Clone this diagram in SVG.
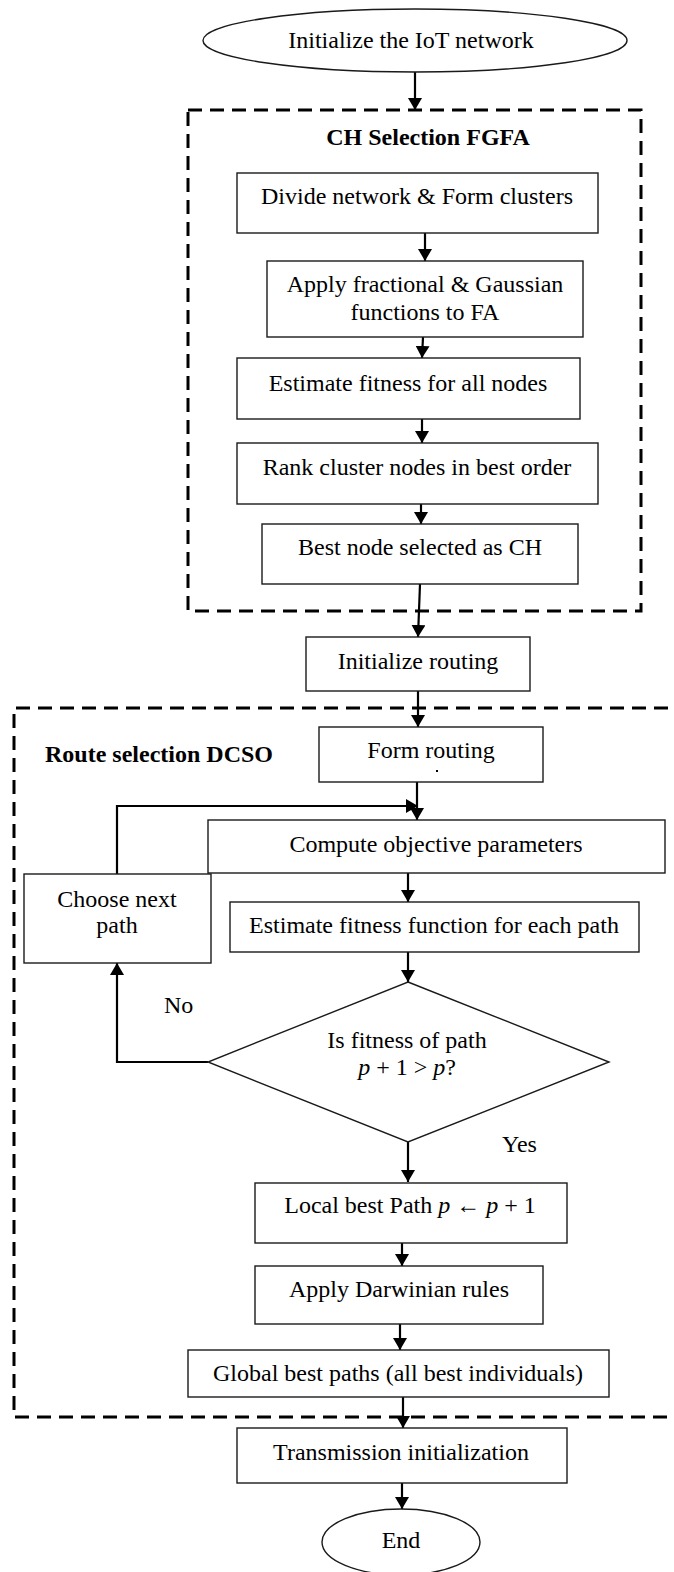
<svg xmlns="http://www.w3.org/2000/svg" width="674" height="1572" viewBox="0 0 674 1572">
  <style>
    .node { fill: #ffffff; stroke: #1a1a1a; stroke-width: 1.4; }
    .group { fill: none; stroke: #000000; stroke-width: 3; stroke-dasharray: 14 8; }
    .edge { fill: none; stroke: #000000; stroke-width: 2.2; }
    .t { font-family: "Liberation Serif", "Times New Roman", serif; font-size: 24px; fill: #000000; }
    .c { text-anchor: middle; }
    .b { font-weight: bold; }
    .m { font-style: italic; }
  </style>
  <defs>
    <marker id="arrow" viewBox="0 0 12 14" refX="12" refY="7" markerWidth="12" markerHeight="14" markerUnits="userSpaceOnUse" orient="auto">
      <path d="M0,0 L12,7 L0,14 Z" fill="#000000"/>
    </marker>
  </defs>
  <rect width="674" height="1572" fill="#ffffff"/>

  <!-- dashed group frames -->
  <g id="group-ch-selection">
    <rect class="group" x="188" y="110" width="453" height="501"/>
    <text class="t c b" x="428" y="145">CH Selection FGFA</text>
  </g>
  <g id="group-route-selection">
    <path class="group" d="M690,708 H14 V1417 H690"/>
    <text class="t b" x="45" y="762">Route selection DCSO</text>
  </g>

  <!-- connectors -->
  <g id="connectors">
    <path class="edge" d="M415,72 V110" marker-end="url(#arrow)"/>
    <path class="edge" d="M425,233 V261" marker-end="url(#arrow)"/>
    <path class="edge" d="M423,337 L422,358" marker-end="url(#arrow)"/>
    <path class="edge" d="M422,419 V443" marker-end="url(#arrow)"/>
    <path class="edge" d="M421,504 V524" marker-end="url(#arrow)"/>
    <path class="edge" d="M420,584 L418,637" marker-end="url(#arrow)"/>
    <path class="edge" d="M418,691 V727" marker-end="url(#arrow)"/>
    <path class="edge" d="M417,782 V820" marker-end="url(#arrow)"/>
    <path class="edge" d="M117,874 V806 H418" marker-end="url(#arrow)"/>
    <path class="edge" d="M408,873 V902" marker-end="url(#arrow)"/>
    <path class="edge" d="M408,952 V982" marker-end="url(#arrow)"/>
    <path class="edge" d="M208,1062 H117 V963" marker-end="url(#arrow)"/>
    <path class="edge" d="M408,1142 V1182" marker-end="url(#arrow)"/>
    <path class="edge" d="M402,1243 V1266" marker-end="url(#arrow)"/>
    <path class="edge" d="M400,1324 V1350" marker-end="url(#arrow)"/>
    <path class="edge" d="M403,1397 V1428" marker-end="url(#arrow)"/>
    <path class="edge" d="M402,1483 V1509" marker-end="url(#arrow)"/>
    <text class="t" x="164" y="1013">No</text>
    <text class="t" x="502" y="1152">Yes</text>
  </g>

  <!-- nodes -->
  <g id="start">
    <ellipse class="node" cx="415" cy="40.5" rx="212" ry="31.5"/>
    <text class="t c" x="411" y="48">Initialize the IoT network</text>
  </g>
  <g id="divide-network">
    <rect class="node" x="237" y="173" width="361" height="60"/>
    <text class="t c" x="417" y="204">Divide network &amp; Form clusters</text>
  </g>
  <g id="apply-functions">
    <rect class="node" x="267" y="261" width="316" height="76"/>
    <text class="t c" x="425" y="292">Apply fractional &amp; Gaussian</text>
    <text class="t c" x="425" y="320">functions to FA</text>
  </g>
  <g id="estimate-node-fitness">
    <rect class="node" x="237" y="358" width="343" height="61"/>
    <text class="t c" x="408" y="391">Estimate fitness for all nodes</text>
  </g>
  <g id="rank-nodes">
    <rect class="node" x="237" y="443" width="361" height="61"/>
    <text class="t c" x="417" y="475">Rank cluster nodes in best order</text>
  </g>
  <g id="select-ch">
    <rect class="node" x="262" y="524" width="316" height="60"/>
    <text class="t c" x="420" y="555">Best node selected as CH</text>
  </g>
  <g id="init-routing">
    <rect class="node" x="306" y="637" width="224" height="54"/>
    <text class="t c" x="418" y="669">Initialize routing</text>
  </g>
  <g id="form-routing">
    <rect class="node" x="319" y="727" width="224" height="55"/>
    <text class="t c" x="431" y="758">Form routing</text>
    <!-- clipped remnant of a second label line -->
    <rect x="436" y="770" width="2" height="2" fill="#000000"/>
  </g>
  <g id="compute-parameters">
    <rect class="node" x="208" y="820" width="457" height="53"/>
    <text class="t c" x="436" y="852">Compute objective parameters</text>
  </g>
  <g id="choose-next-path">
    <rect class="node" x="24" y="874" width="187" height="89"/>
    <text class="t c" x="117" y="907">Choose next</text>
    <text class="t c" x="117" y="933">path</text>
  </g>
  <g id="estimate-path-fitness">
    <rect class="node" x="230" y="902" width="409" height="50"/>
    <text class="t c" x="434" y="933">Estimate fitness function for each path</text>
  </g>
  <g id="fitness-check">
    <polygon class="node" points="408,982 609,1062 408,1142 208,1062"/>
    <text class="t c" x="407" y="1048">Is fitness of path</text>
    <text class="t c" x="407" y="1075"><tspan class="m">p</tspan> + 1 &gt; <tspan class="m">p</tspan>?</text>
  </g>
  <g id="local-best">
    <rect class="node" x="255" y="1183" width="312" height="60"/>
    <text class="t c" x="410" y="1213">Local best Path <tspan class="m">p</tspan> ← <tspan class="m">p</tspan> + 1</text>
  </g>
  <g id="darwinian-rules">
    <rect class="node" x="255" y="1266" width="288" height="58"/>
    <text class="t c" x="399" y="1297">Apply Darwinian rules</text>
  </g>
  <g id="global-best">
    <rect class="node" x="188" y="1350" width="421" height="47"/>
    <text class="t c" x="398" y="1381">Global best paths (all best individuals)</text>
  </g>
  <g id="transmission">
    <rect class="node" x="237" y="1428" width="330" height="55"/>
    <text class="t c" x="401" y="1460">Transmission initialization</text>
  </g>
  <g id="end">
    <ellipse class="node" cx="401" cy="1542" rx="79" ry="33"/>
    <text class="t c" x="401" y="1548">End</text>
  </g>
</svg>
